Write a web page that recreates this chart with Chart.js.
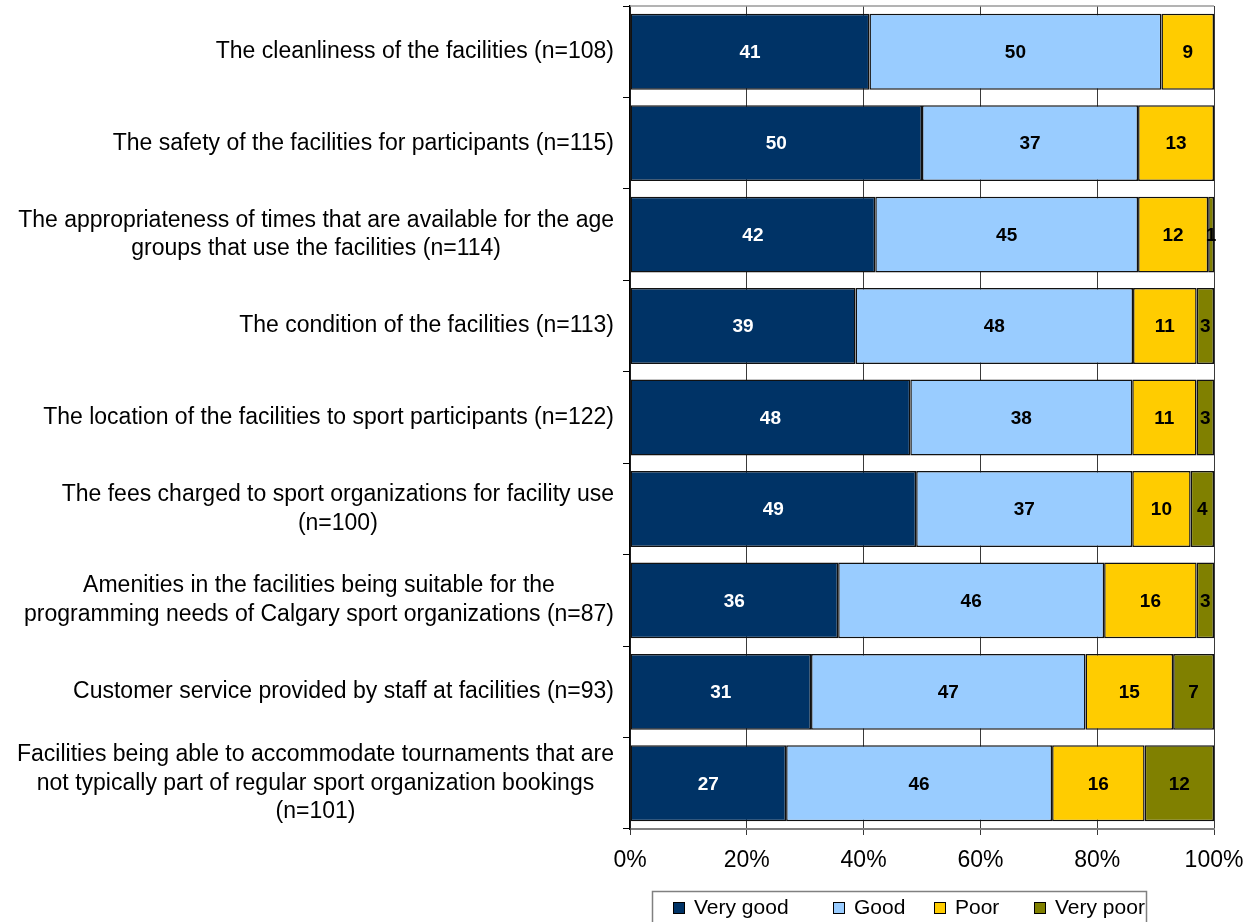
<!DOCTYPE html>
<html>
<head>
<meta charset="utf-8">
<script src="https://cdn.jsdelivr.net/npm/chart.js@4.4.0/dist/chart.umd.min.js"></script>
<style>
  html, body { margin: 0; padding: 0; background: #fff; }
  #wrap { width: 1256px; height: 922px; }
</style>
</head>
<body>
<div id="wrap"><canvas id="c" width="1256" height="922"></canvas></div>
<script>
const categories = [
  "The cleanliness of the facilities (n=108)",
  "The safety of the facilities for participants (n=115)",
  ["The appropriateness of times that are available for the age", "groups that use the facilities (n=114)"],
  "The condition of the facilities (n=113)",
  "The location of the facilities to sport participants (n=122)",
  ["The fees charged to sport organizations for facility use", "(n=100)"],
  ["Amenities in the facilities being suitable for the", "programming needs of Calgary sport organizations (n=87)"],
  "Customer service provided by staff at facilities (n=93)",
  ["Facilities being able to accommodate tournaments that are", "not typically part of regular sport organization bookings", "(n=101)"]
];
const seriesNames = ["Very good", "Good", "Poor", "Very poor"];
const veryGood = [41, 50, 42, 39, 48, 49, 36, 31, 27];
const good     = [50, 37, 45, 48, 38, 37, 46, 47, 46];
const poor     = [9, 13, 12, 11, 11, 10, 16, 15, 16];
const veryPoor = [0, 0, 1, 3, 3, 4, 3, 7, 12];
const xTickValues = [0, 20, 40, 60, 80, 100];
const colors = ["#003366", "#99CCFF", "#FFCC00", "#808000"];
const labelColors = ["#ffffff", "#000000", "#000000", "#000000"];

const raw = [veryGood, good, poor, veryPoor];
const totals = categories.map((_, i) => raw.reduce((s, arr) => s + arr[i], 0));
const pct = arr => arr.map((v, i) => v / totals[i] * 100);

const FONT = "'Liberation Sans', Arial, sans-serif";

const datasets = raw.map((arr, k) => ({
  label: seriesNames[k],
  data: pct(arr),
  rawValues: arr,
  backgroundColor: colors[k],
  borderColor: "#111111",
  borderWidth: 1.5,
  borderSkipped: false,
  barPercentage: 0.83,
  categoryPercentage: 1.0
}));

const valueLabels = {
  id: "valueLabels",
  afterDatasetsDraw(chart) {
    const ctx = chart.ctx;
    ctx.save();
    ctx.font = "bold 19px " + FONT;
    ctx.textAlign = "center";
    ctx.textBaseline = "middle";
    chart.data.datasets.forEach((ds, k) => {
      const meta = chart.getDatasetMeta(k);
      meta.data.forEach((el, i) => {
        const v = ds.rawValues[i];
        if (!v) return;
        const cx = (el.x + el.base) / 2;
        ctx.fillStyle = labelColors[k];
        ctx.fillText(String(v), cx, el.y + 1);
      });
    });
    ctx.restore();
  }
};

const decorations = {
  id: "decorations",
  afterDraw(chart) {
    const ctx = chart.ctx;
    const area = chart.chartArea;
    const yScale = chart.scales.y;
    ctx.save();
    // top border of plot
    ctx.strokeStyle = "#9a9a9a";
    ctx.lineWidth = 1.5;
    ctx.beginPath();
    ctx.moveTo(area.left, area.top);
    ctx.lineTo(area.right, area.top);
    ctx.stroke();

    // category labels: block right-aligned, lines centered within block
    ctx.font = "23px " + FONT;
    ctx.fillStyle = "#000";
    ctx.textBaseline = "middle";
    ctx.textAlign = "center";
    const lineH = 28.5;
    const rightEdge = 614;
    categories.forEach((lab, i) => {
      const lines = Array.isArray(lab) ? lab : [lab];
      const w = Math.max(...lines.map(l => ctx.measureText(l).width));
      const cx = rightEdge - w / 2;
      const yc = yScale.getPixelForValue(i);
      const y0 = yc - (lines.length - 1) * lineH / 2;
      lines.forEach((l, j) => ctx.fillText(l, cx, y0 + j * lineH));
    });

    // legend
    const bx = 652, by = 891, bw = 494, bh = 40;
    ctx.strokeStyle = "#808080";
    ctx.lineWidth = 1.5;
    ctx.strokeRect(bx + 0.5, by + 0.5, bw, bh);
    const boxX = [673, 833, 934, 1034];
    ctx.font = "21px " + FONT;
    ctx.textAlign = "left";
    seriesNames.forEach((n, k) => {
      ctx.fillStyle = colors[k];
      ctx.fillRect(boxX[k], 902, 11, 11);
      ctx.strokeStyle = "#000";
      ctx.lineWidth = 1;
      ctx.strokeRect(boxX[k] + 0.5, 902.5, 11, 11);
      ctx.fillStyle = "#000";
      ctx.fillText(n, boxX[k] + 21, 908);
    });
    ctx.restore();
  }
};

new Chart(document.getElementById("c"), {
  type: "bar",
  data: { labels: categories, datasets },
  options: {
    indexAxis: "y",
    responsive: false,
    animation: false,
    layout: { padding: { top: 6, right: 42, bottom: 0, left: 0 } },
    plugins: { legend: { display: false }, tooltip: { enabled: false } },
    scales: {
      x: {
        stacked: true,
        min: 0,
        max: 100,
        afterBuildTicks(scale) {
          scale.ticks = xTickValues.map(v => ({ value: v }));
        },
        afterFit(scale) { scale.height = 93; },
        ticks: {
          callback: v => v + "%",
          font: { family: FONT, size: 23 },
          color: "#000",
          padding: 12,
          maxRotation: 0
        },
        grid: {
          color: "#3a3a3a",
          lineWidth: 1,
          tickLength: 6,
          tickColor: "#3a3a3a"
        },
        border: { color: "#808080", width: 2 }
      },
      y: {
        stacked: true,
        offset: true,
        afterFit(scale) { scale.width = 630; },
        ticks: { display: false },
        grid: {
          offset: true,
          drawOnChartArea: false,
          tickLength: 7,
          tickColor: "#000"
        },
        border: { color: "#000", width: 1.5 }
      }
    }
  },
  plugins: [valueLabels, decorations]
});
</script>
</body>
</html>
